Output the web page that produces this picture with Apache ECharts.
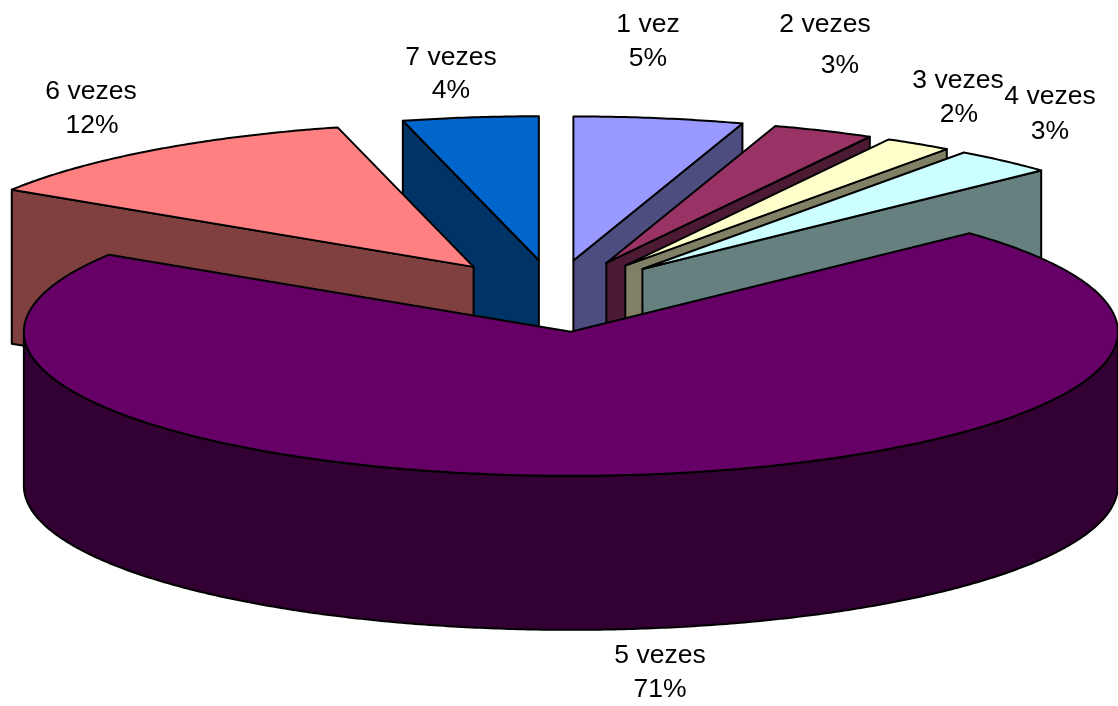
<!DOCTYPE html>
<html>
<head>
<meta charset="utf-8">
<style>html,body{margin:0;padding:0;background:#fff}#chart{width:1118px;height:706px}</style>
<script src="https://cdn.jsdelivr.net/npm/echarts@6/dist/echarts.min.js"></script>
</head>
<body>
<div id="chart"></div>
<script>
// Share of respondents per answer, in percent
const categories = ['1 vez', '2 vezes', '3 vezes', '4 vezes', '5 vezes', '6 vezes', '7 vezes'];
const shares = [5, 3, 2, 3, 71, 12, 4];

// Slice colours: lit top face and shaded wall
const topColors = ['#9999FF', '#993366', '#FFFFCC', '#CCFFFF', '#660066', '#FF8080', '#0066CC'];
const wallColors = ['#4D4D80', '#4D1A33', '#808066', '#668080', '#330033', '#804040', '#003366'];

// Painter's order, back to front
const drawOrder = [6, 0, 1, 2, 3, 5, 4];

// Tilted-disc geometry; some slices lean a little further to the right
const disc = { cx: 552, cy: 296, rx: 547, ry: 144, depth: 154, explode: 0.25 };
const sideLean = [0, 0, 0, 0, 6, 2, 4];

// Label anchors: name x, name line centre, percent x, percent line centre
const labelSpots = [
  [648, 25, 648, 59], [825, 25, 840, 66], [958, 81, 959, 115], [1050, 97, 1050, 132],
  [660, 656, 660, 690], [91, 92, 92, 126], [451, 58, 451, 91]
];

const total = shares.reduce((a, b) => a + b, 0);
const bounds = [];
shares.reduce((acc, v, i) => {
  const next = acc + v / total * 360;
  bounds[i] = [acc, next];
  return next;
}, 0);

const rad = d => d * Math.PI / 180;

function sliceGeometry(i) {
  const [a0, a1] = bounds[i];
  const mid = rad((a0 + a1) / 2);
  const ox = disc.cx + sideLean[i] + disc.explode * disc.rx * Math.sin(mid);
  const oy = disc.cy - disc.explode * disc.ry * Math.cos(mid);
  const rim = a => [ox + disc.rx * Math.sin(rad(a)), oy - disc.ry * Math.cos(rad(a))];
  return { a0, a1, ox, oy, rim };
}

function arcPoints(g, from, to) {
  const pts = [];
  const n = Math.max(2, Math.ceil(Math.abs(to - from) * 2));
  for (let k = 0; k <= n; k++) pts.push(g.rim(from + (to - from) * k / n));
  return pts;
}

function renderSlice(params, api) {
  const i = api.value(0);
  const g = sliceGeometry(i);
  const d = disc.depth;
  const apex = [g.ox, g.oy];
  const down = p => [p[0], p[1] + d];
  const style = fill => ({ fill, stroke: '#000', lineWidth: 2, lineJoin: 'round' });
  const poly = (points, fill) => ({ type: 'polygon', shape: { points }, style: style(fill) });
  const children = [];

  // Radial walls, visible only when they face the viewer
  [g.a0, g.a1].forEach(a => {
    const isStart = a === g.a0;
    const s = Math.sin(rad(a));
    if ((isStart && s < 0) || (!isStart && s > 0)) {
      const e = g.rim(a);
      children.push(poly([apex, e, down(e), down(apex)], wallColors[i]));
    }
  });

  // Outer wall over the front half of the rim
  const f0 = Math.max(g.a0, 90), f1 = Math.min(g.a1, 270);
  if (f1 > f0) {
    const arc = arcPoints(g, f0, f1);
    children.push(poly(arc.concat(arc.slice().reverse().map(down)), wallColors[i]));
  }

  children.push(poly([apex].concat(arcPoints(g, g.a0, g.a1)), topColors[i]));
  return { type: 'group', children };
}

// Two-line data labels drawn as text elements
const labelGraphics = categories.flatMap((name, i) => {
  const [x1, y1, x2, y2] = labelSpots[i];
  const text = (t, x, y) => ({
    type: 'text', x, y,
    style: { text: t, fill: '#000', font: '26.5px "Liberation Sans", Arial, sans-serif', textAlign: 'center', textVerticalAlign: 'middle' }
  });
  return [text(name, x1, y1), text(shares[i] + '%', x2, y2)];
});

const chart = echarts.init(document.getElementById('chart'));
chart.setOption({
  animation: false,
  backgroundColor: '#fff',
  graphic: labelGraphics,
  series: [{
    type: 'custom',
    coordinateSystem: 'none',
    renderItem: renderSlice,
    silent: true,
    data: drawOrder.map(i => [i, shares[i]])
  }]
});
</script>
</body>
</html>
